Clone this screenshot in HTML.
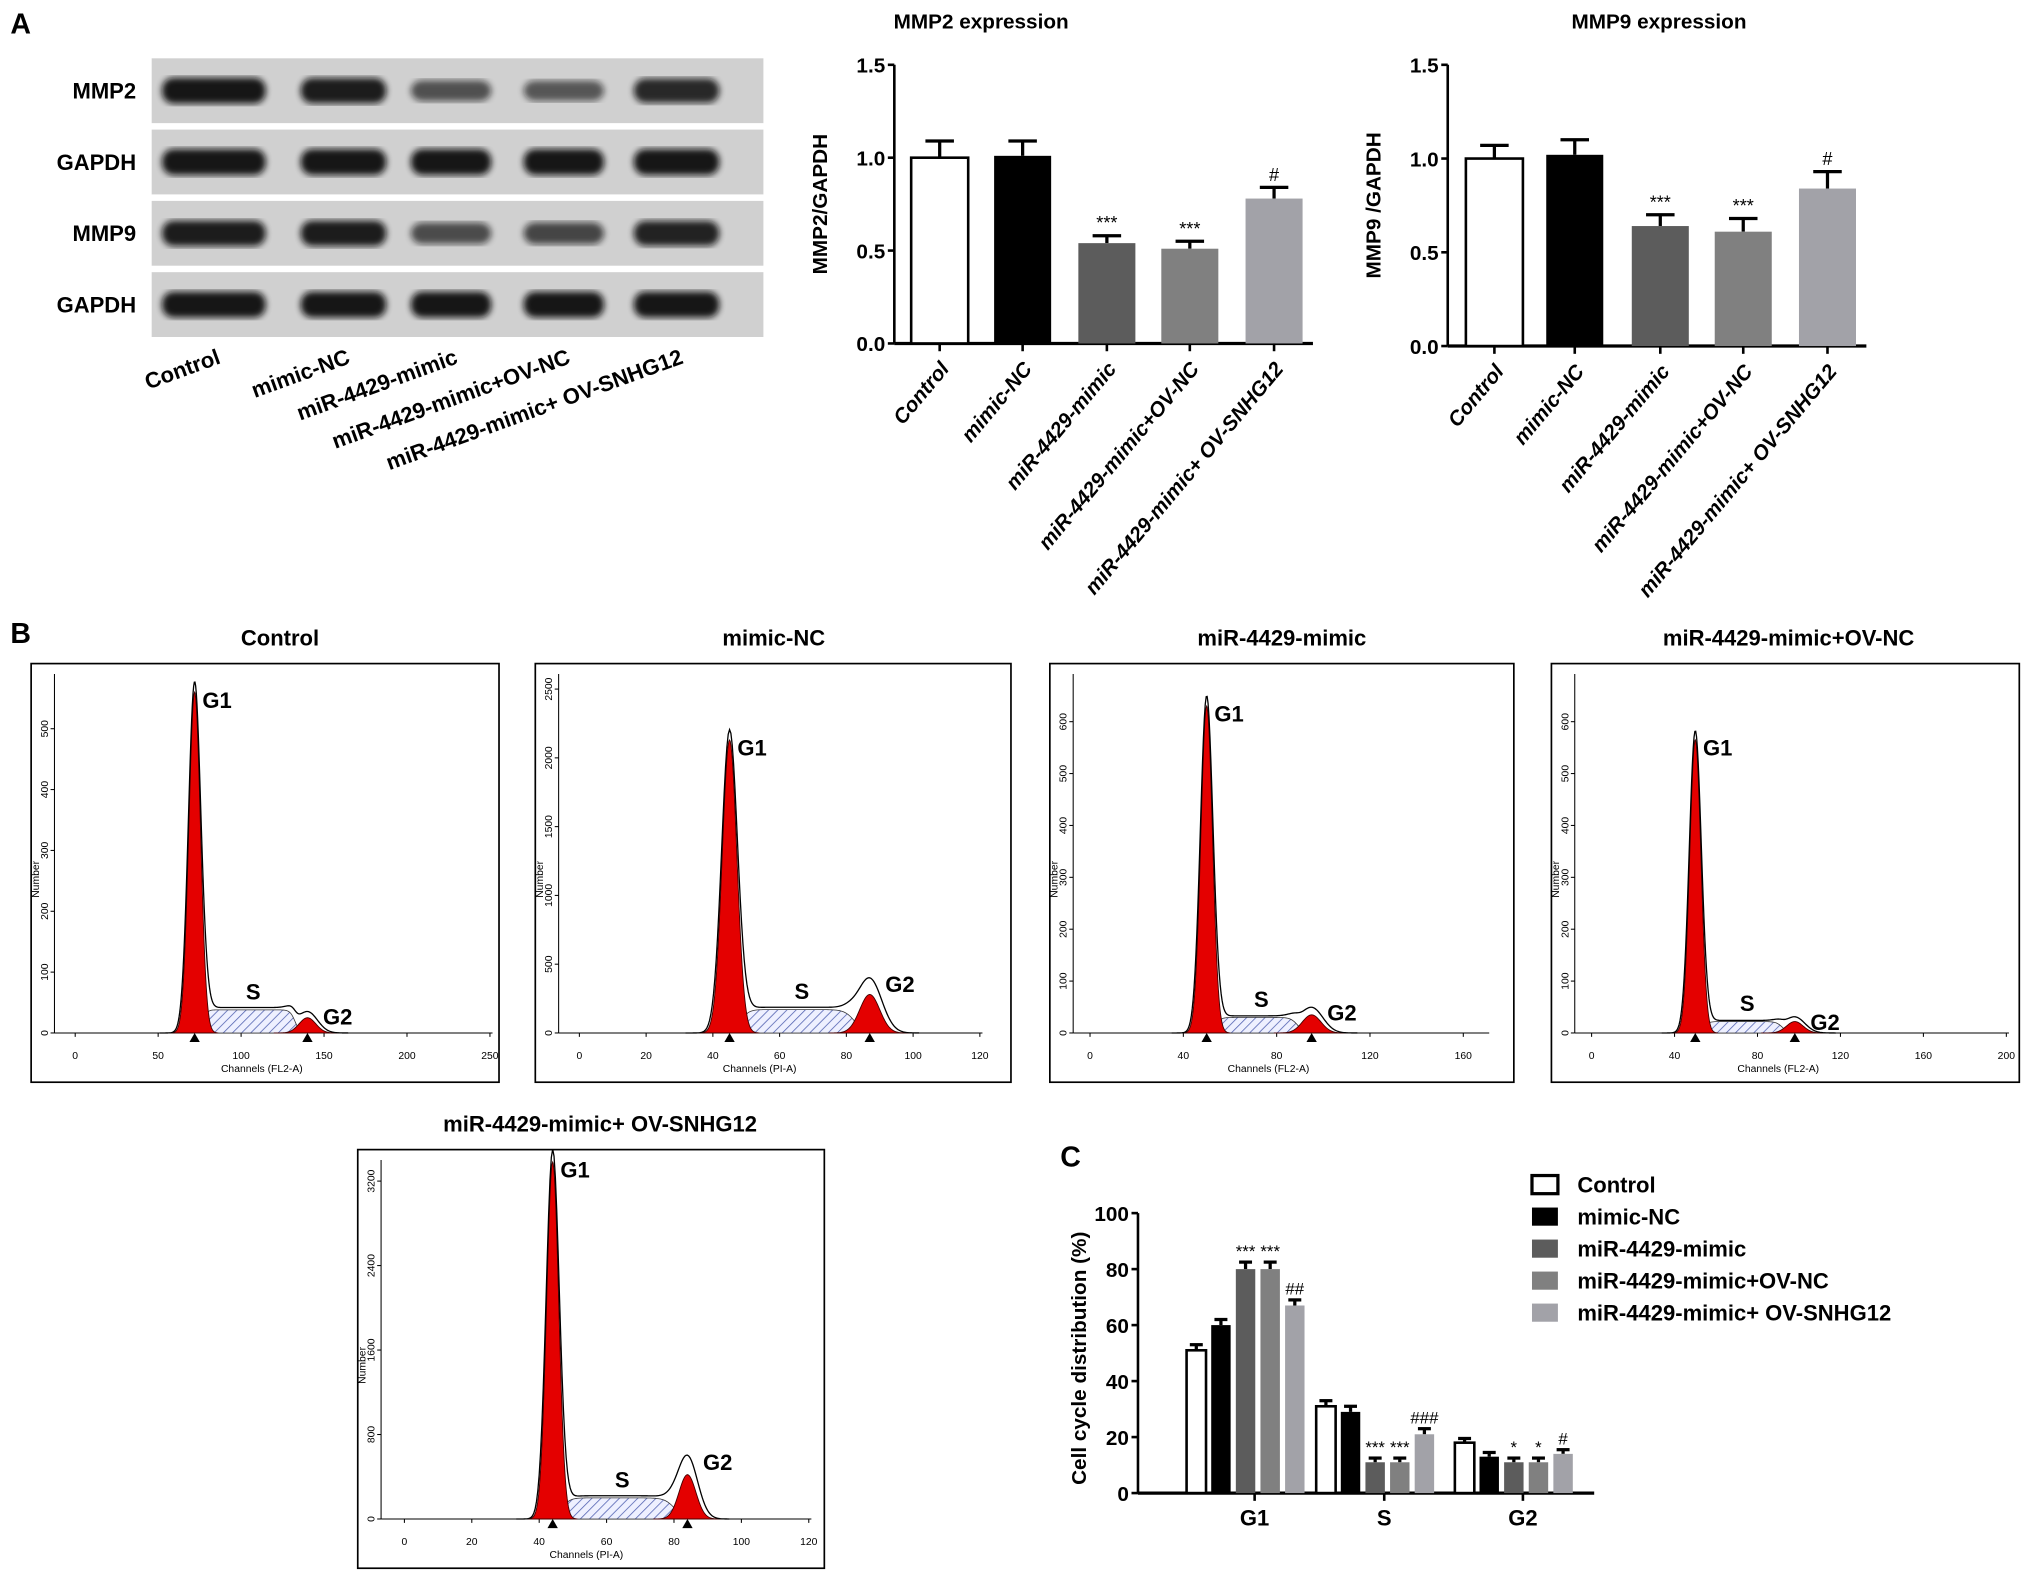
<!DOCTYPE html>
<html><head><meta charset="utf-8"><style>
html,body{margin:0;padding:0;background:#fff}
svg{display:block}
text{font-family:"Liberation Sans",Arial,sans-serif}
</style></head><body>
<svg id="fig" xmlns="http://www.w3.org/2000/svg" width="2031" height="1579" viewBox="0 0 1567 1218.3">
<defs>
<pattern id="hatch" width="5" height="5" patternUnits="userSpaceOnUse" patternTransform="rotate(45)">
<rect width="5" height="5" fill="#eef0ff"/><line x1="0" y1="0" x2="0" y2="5" stroke="#5060b0" stroke-width="1.2"/>
</pattern>
<filter id="blur"><feGaussianBlur stdDeviation="2.5"/></filter>
</defs>
<g id="root"></g>
</svg>
<script>
// ---------- Panel A data ----------
const groups = ["Control","mimic-NC","miR-4429-mimic","miR-4429-mimic+OV-NC","miR-4429-mimic+ OV-SNHG12"];
const mmp2Values = [1.00,1.01,0.54,0.51,0.78];
const mmp2Errors = [0.09,0.08,0.04,0.04,0.06];
const mmp2Marks = ["","","***","***","#"];
const mmp9Values = [1.00,1.02,0.64,0.61,0.84];
const mmp9Errors = [0.07,0.08,0.06,0.07,0.09];
const mmp9Marks = ["","","***","***","#"];
const exprTicks = ["0.0","0.5","1.0","1.5"];
const blotRows = ["MMP2","GAPDH","MMP9","GAPDH"];
const blotIntensity = [[1,0.95,0.5,0.45,0.85],[1,1,1,1,1],[0.95,0.95,0.55,0.6,0.9],[1,1,1,1,1]];
// ---------- Panel C data ----------
const phases = ["G1","S","G2"];
const ccControl = [51,31,18];
const ccMimicNC = [60,29,13];
const ccMimic = [80,11,11];
const ccOvNC = [80,11,11];
const ccOvSNHG = [67,21,14];
const ccErr = [[2,2,1.5],[2,2,1.5],[2.5,1.5,1.5],[2.5,1.5,1.5],[2,2,1.5]];
const ccMarks = [["","",""],["","",""],["***","***","*"],["***","***","*"],["##","###","#"]];
const ccTicks = [0,20,40,60,80,100];
// ---------- Panel B data ----------
const flowTitles = ["Control","mimic-NC","miR-4429-mimic","miR-4429-mimic+OV-NC","miR-4429-mimic+ OV-SNHG12"];
const flowXLabel = ["Channels (FL2-A)","Channels (PI-A)","Channels (FL2-A)","Channels (FL2-A)","Channels (PI-A)"];
const flowXMax = [250,120,170,200,120];
const flowXStep = [50,20,40,40,20];
const flowYMax = [590,2610,692,692,3400];
const flowYStep = [100,500,100,100,800];
const flowG1Chan = [72,45,50,50,44];
const flowG1Count = [560,2130,630,565,3380];
const flowG1Sigma = [3.5,2.2,2.5,2.7,1.8];
const flowSCount = [38,170,30,22,200];
const flowG2Chan = [140,87,95,98,84];
const flowG2Count = [25,280,35,22,420];
const flowG2Sigma = [5,3,4,4,2.5];

const NS="http://www.w3.org/2000/svg";
const root=document.getElementById('root');
function el(tag,attrs,parent,txt){const e=document.createElementNS(NS,tag);for(const k in attrs)e.setAttribute(k,attrs[k]);if(txt!==undefined)e.textContent=txt;(parent||root).appendChild(e);return e;}

[["A",8,26],["B",8,496],["C",818,900]].forEach(([t,x,y])=>{
  const e=el('text',{x:x,y:y,'font-size':22,'font-weight':'bold'},root,t);
  
  
});

// ---------- Western blot ----------
const blotG=el('g',{});


const laneX=[165,265,348,435,522], laneW=[80,66,62,62,66];
const rowY=[45,100,155,210];
blotRows.forEach((r,i)=>{
  const y=rowY[i];
  el('rect',{x:117,y:y,width:472,height:50,fill:'#d0d0d0'},blotG);
  const lt=el('text',{x:105,y:y+31,'font-size':17,'font-weight':'bold','text-anchor':'end'},blotG,r);
  
  
  laneX.forEach((cx,j)=>{
    const k=blotIntensity[i][j];
    const b=el('rect',{x:cx-laneW[j]/2,y:y+25-(6+4*k),width:laneW[j],height:2*(6+4*k),rx:9,fill:'#111',opacity:0.35+0.6*k,filter:'url(#blur)'},blotG);
    
    
  });
});
groups.forEach((g,j)=>{
  const t=el('text',{x:0,y:0,'font-size':17,'font-weight':'bold','text-anchor':'end',transform:`translate(${laneX[j]+6},${280}) rotate(-20)`},blotG,g);
  
  
});

// ---------- Expression bar charts ----------
const barColors=['#ffffff','#000000','#5c5c5c','#808080','#a2a2a8'];
function exprChart(name,title,ylab,ax,ytop,ybot,centers,vals,errs,marks,titleX){
  const g=el('g',{});
  
  
  const ys=v=>ybot-(v/1.5)*(ybot-ytop);
  const tt=el('text',{x:titleX,y:22,'font-size':16,'font-weight':'bold','text-anchor':'middle'},g,title);
  
  
  el('line',{x1:ax,y1:ytop,x2:ax,y2:ybot,stroke:'#000','stroke-width':2},g);
  el('line',{x1:ax,y1:ybot,x2:centers[4]+30,y2:ybot,stroke:'#000','stroke-width':2.5},g);
  exprTicks.forEach(t=>{
    const y=ys(parseFloat(t));
    el('line',{x1:ax-5,y1:y,x2:ax,y2:y,stroke:'#000','stroke-width':2},g);
    const l=el('text',{x:ax-7,y:y+6,'font-size':16,'font-weight':'bold','text-anchor':'end'},g,t);
    
    
  });
  const yl=el('text',{x:0,y:0,'font-size':16,'font-weight':'bold','text-anchor':'middle',transform:`translate(${ax-52},${(ytop+ybot)/2}) rotate(-90)`},g,ylab);
  
  
  vals.forEach((v,i)=>{
    const cx=centers[i],w=44,top=ys(v),et=ys(v+errs[i]);
    el('line',{x1:cx,y1:top,x2:cx,y2:et,stroke:'#000','stroke-width':2.5},g);
    el('line',{x1:cx-11,y1:et,x2:cx+11,y2:et,stroke:'#000','stroke-width':2.5},g);
    const r=el('rect',{x:cx-w/2,y:top,width:w,height:ybot-top,fill:barColors[i],stroke:i===0?'#000':'none','stroke-width':2},g);
    
    
    if(marks[i]){const m=el('text',{x:cx,y:et-5,'font-size':14,'text-anchor':'middle'},g,marks[i]);
      
      }
    el('line',{x1:cx,y1:ybot,x2:cx,y2:ybot+6,stroke:'#000','stroke-width':2},g);
    const xl=el('text',{x:0,y:0,'font-size':16,'font-weight':'bold','font-style':'italic','text-anchor':'end',transform:`translate(${cx+8},${ybot+20}) rotate(-50)`},g,groups[i]);
    
    
  });
}
exprChart('mmp2-chart','MMP2 expression','MMP2/GAPDH',690,50,265,[725,789,854,918,983],mmp2Values,mmp2Errors,mmp2Marks,757);
exprChart('mmp9-chart','MMP9 expression','MMP9 /GAPDH',1117,50,267,[1153,1215,1281,1345,1410],mmp9Values,mmp9Errors,mmp9Marks,1280);

// ---------- Flow cytometry ----------
const boxes=[[24,512,361,323],[413,512,367,323],[810,512,358,323],[1197,512,361,323],[276,887,360,323]];
const titleCX=[216,597,989,1380,463];
const chan0=[58,447,841,1228,312];
const ppc=[1.28,2.575,1.8,1.6,2.6];
function gauss(x,m,s){return Math.exp(-0.5*((x-m)/s)**2);}
boxes.forEach((b,i)=>{
  const [bx,by,bw,bh]=b;
  const g=el('g',{});
  
  
  const tt=el('text',{x:titleCX[i],y:by-14,'font-size':17,'font-weight':'bold','text-anchor':'middle'},g,flowTitles[i]);
  
  
  el('rect',{x:bx,y:by,width:bw,height:bh,fill:'#fff',stroke:'#000','stroke-width':1.3},g);
  const base=by+285, H=277;
  const xs=c=>chan0[i]+c*ppc[i];
  const ys=v=>base-v/flowYMax[i]*H;
  const yax=bx+18;
  el('line',{x1:yax,y1:by+8,x2:yax,y2:base,stroke:'#000','stroke-width':0.8},g);
  el('line',{x1:yax,y1:base,x2:xs(flowXMax[i])+2,y2:base,stroke:'#000','stroke-width':0.8},g);
  for(let c=0;c<=flowXMax[i];c+=flowXStep[i]){
    el('line',{x1:xs(c),y1:base,x2:xs(c),y2:base+3,stroke:'#000','stroke-width':0.8},g);
    const t=el('text',{x:xs(c),y:base+20,'font-size':8,'text-anchor':'middle'},g,String(c));
    
    
  }
  for(let v=0;v<=flowYMax[i];v+=flowYStep[i]){
    el('line',{x1:yax-3,y1:ys(v),x2:yax,y2:ys(v),stroke:'#000','stroke-width':0.8},g);
    const t=el('text',{x:0,y:0,'font-size':8,'text-anchor':'middle',transform:`translate(${yax-5},${ys(v)}) rotate(-90)`},g,String(v));
    
    
  }
  const xl=el('text',{x:xs(flowXMax[i]*0.45),y:base+30,'font-size':8,'text-anchor':'middle'},g,flowXLabel[i]);
  
  
  const yl=el('text',{x:0,y:0,'font-size':8,'text-anchor':'middle',transform:`translate(${bx+6},${base-H/2+20}) rotate(-90)`},g,'Number');
  
  
  const m1=flowG1Chan[i],s1=flowG1Sigma[i],m2=flowG2Chan[i],s2=flowG2Sigma[i];
  const sfun=c=>flowSCount[i]/(1+Math.exp(-(c-m1-1.5*s1)/1.2))/(1+Math.exp((c-m2+1.5*s2)/1.5));
  let sp=`M${xs(m1)},${base}`;
  for(let c=m1;c<=m2+3*s2;c+=0.5) sp+=` L${xs(c)},${ys(sfun(c))}`;
  sp+=` L${xs(m2+3*s2)},${base} Z`;
  const sr=el('path',{d:sp,fill:'url(#hatch)',stroke:'#333','stroke-width':0.6},g);
  
  
  [[m1,s1,flowG1Count[i],'g1-peak'],[m2,s2,flowG2Count[i],'g2-peak']].forEach(([m,s,h,n])=>{
    let p=`M${xs(m-4*s)},${base}`;
    for(let c=m-4*s;c<=m+4*s;c+=s/10) p+=` L${xs(c)},${ys(h*gauss(c,m,s))}`;
    p+=` L${xs(m+4*s)},${base} Z`;
    const r=el('path',{d:p,fill:'#e40000',stroke:'#400','stroke-width':0.7},g);
    
    
    el('path',{d:`M${xs(m)-4},${base+7} L${xs(m)+4},${base+7} L${xs(m)},${base} Z`,fill:'#000'},g);
  });
  let op='';
  for(let c=m1-6*s1;c<=m2+5*s2;c+=0.4){
    const v=flowG1Count[i]*1.03*gauss(c,m1,s1*1.08)+sfun(c)*1.1+flowG2Count[i]*1.4*gauss(c,m2,s2*1.2);
    op+=(op?' L':'M')+xs(c)+','+ys(v);
  }
  const ol=el('path',{d:op,fill:'none',stroke:'#000','stroke-width':1},g);
  
  
  const lab=[['G1',xs(m1)+6,ys(flowG1Count[i])+12],['S',xs((m1+m2)/2)-4,ys(flowSCount[i])-8],['G2',xs(m2)+12,ys(flowG2Count[i]*1.4)+10]];
  lab.forEach(([t,x,y])=>{const e=el('text',{x:x,y:y,'font-size':17,'font-weight':'bold'},g,t);
    
    });
});

// ---------- Panel C ----------
(function(){
  const g=el('g',{});
  
  
  const ax=878,ytop=936,ybot=1152;
  const ys=v=>ybot-v/100*(ybot-ytop);
  const series=[ccControl,ccMimicNC,ccMimic,ccOvNC,ccOvSNHG];
  const centers=[968,1068,1175];
  el('line',{x1:ax,y1:ytop,x2:ax,y2:ybot,stroke:'#000','stroke-width':2},g);
  el('line',{x1:ax,y1:ybot,x2:1230,y2:ybot,stroke:'#000','stroke-width':2.5},g);
  ccTicks.forEach(t=>{
    el('line',{x1:ax-5,y1:ys(t),x2:ax,y2:ys(t),stroke:'#000','stroke-width':2},g);
    const l=el('text',{x:ax-7,y:ys(t)+6,'font-size':16,'font-weight':'bold','text-anchor':'end'},g,String(t));
    
    
  });
  const yl=el('text',{x:0,y:0,'font-size':16,'font-weight':'bold','text-anchor':'middle',transform:`translate(838,${(ytop+ybot)/2+4}) rotate(-90)`},g,'Cell cycle distribution (%)');
  
  
  phases.forEach((p,pi)=>{
    const cx=centers[pi];
    el('line',{x1:cx,y1:ybot,x2:cx,y2:ybot+6,stroke:'#000','stroke-width':2},g);
    const xl=el('text',{x:cx,y:ybot+25,'font-size':17,'font-weight':'bold','text-anchor':'middle'},g,p);
    
    
    series.forEach((s,si)=>{
      const bx=cx-7+(si-2)*19, w=15, v=s[pi], top=ys(v), et=ys(v+ccErr[si][pi]);
      el('line',{x1:bx,y1:top,x2:bx,y2:et,stroke:'#000','stroke-width':2.5},g);
      el('line',{x1:bx-5,y1:et,x2:bx+5,y2:et,stroke:'#000','stroke-width':2.5},g);
      const r=el('rect',{x:bx-w/2,y:top,width:w,height:ybot-top,fill:barColors[si],stroke:si===0?'#000':'none','stroke-width':2},g);
      
      
      const mk=ccMarks[si][pi];
      if(mk){const m=el('text',{x:bx,y:et-4,'font-size':13,'text-anchor':'middle'},g,mk);
        
        }
    });
  });
  groups.forEach((n,i)=>{
    const y=914+i*24.7;
    const sw=el('rect',{x:1182,y:y-7,width:20,height:14,fill:barColors[i],stroke:i===0?'#000':'none','stroke-width':2.5},g);
    
    
    const t=el('text',{x:1217,y:y+6,'font-size':17,'font-weight':'bold'},g,n);
    
    
  });
})();
</script>
</body></html>
